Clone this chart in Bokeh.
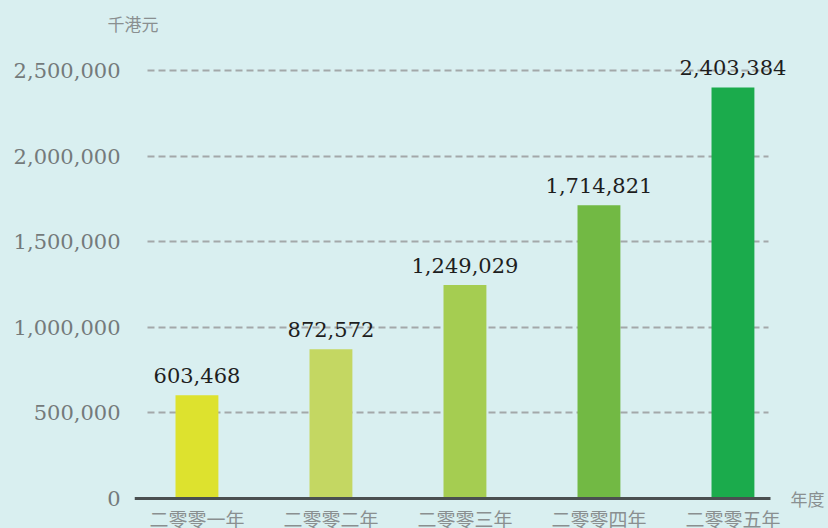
from bokeh.plotting import figure
from bokeh.models import ColumnDataSource, FixedTicker, NumeralTickFormatter, Range1d
from bokeh.core.properties import value
from bokeh.embed import file_html
from bokeh.resources import INLINE

# ---- data ----
categories = ["二零零一年", "二零零二年", "二零零三年", "二零零四年", "二零零五年"]
values = [603468, 872572, 1249029, 1714821, 2403384]
bar_colors = ["#dde22e", "#c4d762", "#a5cd51", "#72b944", "#1bab4c"]
y_ticks = [0, 500000, 1000000, 1500000, 2000000, 2500000]
unit_label = "千港元"
axis_x_label = "年度"

BG = "#d9eff0"
positions = list(range(len(categories)))
value_text = [f"{v:,}" for v in values]

# layout helpers (data-space extents of the baseline and grid)
X_START = -0.466
BASE_END = 4.28
GRID_BOUNDS = (-0.37, 4.265)

src = ColumnDataSource(dict(x=positions, top=values, color=bar_colors,
                            cat=categories, vtext=value_text))
lab = ColumnDataSource(dict(x=[BASE_END], y=[0], t=[axis_x_label]))

p = figure(width=828, height=528, output_backend="svg", toolbar_location=None,
           x_range=Range1d(X_START, 4.713), y_range=Range1d(-175400, 2678000),
           min_border_left=134, min_border_right=0, min_border_top=40, min_border_bottom=0)
p.background_fill_color = BG
p.border_fill_color = BG
p.outline_line_color = None

p.title.text = unit_label
p.title.align = "left"
p.title.offset = -27
p.title.text_font = "Noto Sans CJK TC"
p.title.text_font_size = "17px"
p.title.text_font_style = "normal"
p.title.text_color = "#8a8f90"

p.vbar(x="x", top="top", bottom=0, width=0.32, color="color", line_color=None, source=src)

# x axis used only as the baseline
xax = p.xaxis[0]
xax.fixed_location = 0
xax.bounds = (X_START, BASE_END)
xax.ticker = FixedTicker(ticks=[])
xax.axis_line_color = "#4a4f50"
xax.axis_line_width = 3
xax.major_tick_line_color = None
xax.minor_tick_line_color = None
xax.major_label_text_font_size = "0px"
p.xgrid.visible = False

yax = p.yaxis[0]
yax.ticker = FixedTicker(ticks=y_ticks)
yax.formatter = NumeralTickFormatter(format="0,0")
yax.axis_line_color = None
yax.major_tick_line_color = None
yax.minor_tick_line_color = None
yax.major_label_standoff = 8
yax.major_label_text_font = "DejaVu Serif"
yax.major_label_text_font_size = "21px"
yax.major_label_text_color = "#747a7b"

p.ygrid.ticker = FixedTicker(ticks=y_ticks[1:])
p.ygrid.cross_bounds = GRID_BOUNDS
p.ygrid.grid_line_color = "#a3a8a9"
p.ygrid.grid_line_width = 2
p.ygrid.grid_line_dash = "7 4"

# value labels
p.text(x="x", y="top", text="vtext", source=src, text_align="center", text_baseline="bottom",
       y_offset=-12, text_font=value("DejaVu Serif"), text_font_size="21px", text_color="#1e1e1e")

# category labels
p.text(x="x", y=0, text="cat", source=src, text_align="center", text_baseline="top",
       y_offset=6, text_font=value("Noto Sans CJK TC"), text_font_size="19px", text_color="#8a8f90")

# x label
p.text(x="x", y="y", text="t", source=lab, x_offset=20, text_align="left", text_baseline="middle",
       text_font=value("Noto Sans CJK TC"), text_font_size="17px", text_color="#8a8f90")

html = file_html(p, INLINE)
html = html.replace("</head>", "<style>html,body{background:%s;overflow:hidden;}</style></head>" % BG, 1)
open("out.html", "w").write(html)
